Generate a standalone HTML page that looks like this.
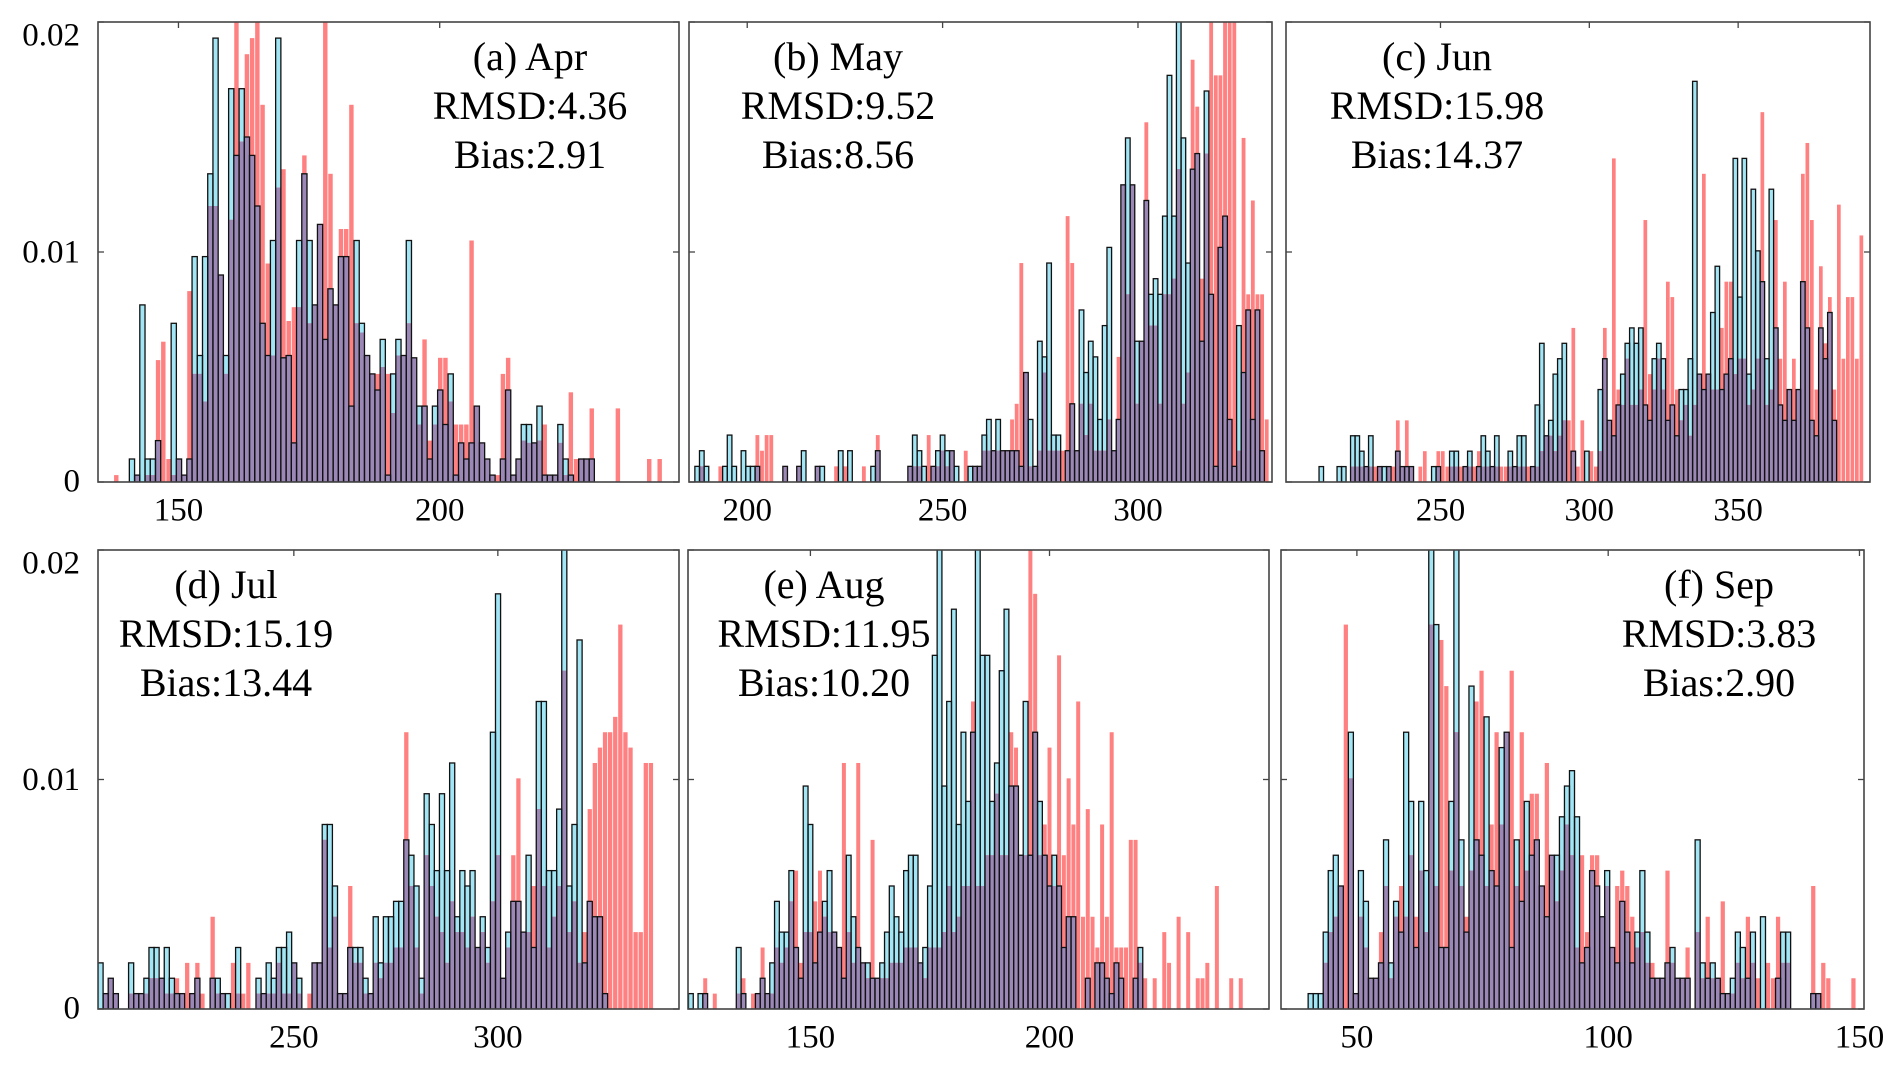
<!DOCTYPE html>
<html><head><meta charset="utf-8"><style>
html,body{margin:0;padding:0;background:#fff;}
svg{display:block;}
svg text{font-family:"Liberation Serif","Times New Roman",Times,serif;fill:#000;}
</style></head><body>
<svg id="chart" width="1892" height="1071" viewBox="0 0 1892 1071" xmlns="http://www.w3.org/2000/svg"></svg>
<script>
// ---- data (heights per bin; multiplied by the panel unit to get density) ----
const panelIds = ["a","b","c","d","e","f"];
const panelTitles = ["(a) Apr","(b) May","(c) Jun","(d) Jul","(e) Aug","(f) Sep"];
const panelRmsd = ["RMSD:4.36","RMSD:9.52","RMSD:15.98","RMSD:15.19","RMSD:11.95","RMSD:3.83"];
const panelBias = ["Bias:2.91","Bias:8.56","Bias:14.37","Bias:13.44","Bias:10.20","Bias:2.90"];
const yTicks = [0, 0.01, 0.02];
const yTickLabels = ["0", "0.01", "0.02"];
const xTicksA = [150, 200];
const xTicksB = [200, 250, 300];
const xTicksC = [250, 300, 350];
const xTicksD = [250, 300];
const xTicksE = [150, 200];
const xTicksF = [50, 100, 150];
const xRangeA = [134.6, 245.8], binA = [137.6, 1.0], unitA = 0.001;
const xRangeB = [185.1, 334.3], binB = [186.6, 1.185], unitB = 0.00068;
const xRangeC = [198.1, 394.3], binC = [209.2, 1.512], unitC = 0.00067;
const xRangeD = [202.0, 344.4], binD = [202.0, 1.249], unitD = 0.00067;
const xRangeE = [124.4, 245.9], binE = [124.5, 1.0], unitE = 0.00067;
const xRangeF = [34.9, 150.9], binF = [40.3, 1.0], unitF = 0.00067;

const blueA = [0,0,0,1.0,0.3,7.7,1.0,1.0,1.8,0, 0,6.9,1.0,0.3,1.0,9.8,5.5,9.8,13.4,19.3, 9.0,5.5,17.1,14.2,17.1,15,14.2,12,6.9,5.5, 10.5,19.3,5.4,5.5,1.7,10.5,13.4,10.5,7.7,11.2, 6.2,8.4,7.7,9.8,9.8,3.3,10.5,6.9,5.5,4.7, 4,6.2,0.3,4.7,6.2,5.5,10.5,5.4,3.3,3.3, 1.0,3.3,4,2.5,4.7,0.3,1.7,1.0,1.7,3.3, 1.7,1.0,0.3,0,1.0,4,0.3,1.0,2.5,2.5, 1.7,3.3,0.3,0.3,0.3,2.5,1.0,0.3,0,1.0, 1.0,1.0,0,0,0,0,0,0,0,0, 0,0,0,0,0];
const redA = [0.3,0,0,0,0.3,0,0.3,0.3,5.3,6.1, 1.0,0.3,1.0,0.3,8.3,4.7,4.7,3.5,12,12, 9,4.7,11.4,20.2,14.8,18.6,19.3,20.2,16.4,9.5, 5.5,12.8,13.6,7.0,7.6,7.6,14.2,6.9,7.7,11.2, 20.2,13.4,7.7,11,11,16.4,6.9,6.5,5.5,4.7, 4.7,5,4.7,3,5.5,5.5,6.9,5.4,2.5,6.2, 1.8,2.5,5.4,5.4,3.5,2.5,2.5,2.5,10.5,3.3, 1.7,1.0,0.3,0.3,4.7,5.4,0.3,1.0,1.8,1.7, 1.7,1.8,2.5,0.3,0.3,1.7,0.3,3.9,1.0,1.0, 1.0,3.2,0,0,0,0,3.2,0,0,0, 0,0,1.0,0,1.0];

const blueB = [1,2,1,0,0,0,1,3,1,0, 2,1,1,1,0,0,0,0,0,1, 0,0,1,2,0,0,1,1,0,0, 0,2,0,2,0,0,0,0,1,2, 0,0,0,0,0,0,1,3,2,1, 0,1,2,3,2,2,1,0,0,1, 1,1,3,4,2,4,2,2,2,2, 1,7,4,1,9,8,14,3,3,0, 2,5,2,11,7,9,8,4,10,15, 2,4,19,22,19,9,9,18,12,13, 12,17,26,17,30,22,14,20,21,9, 25,12,1,15,17,4,1,10,7,11, 4,11,2,0];
const redB = [0,1,0,0,0,1,0,0,0,0, 0,0,0,3,2,3,3,0,0,1, 0,0,1,0,0,0,1,0,0,0, 1,0,1,0,0,0,1,0,0,3, 0,0,0,0,0,0,1,1,1,0, 3,1,1,2,1,2,0,0,2,0, 1,1,2,2,2,2,2,2,4,5, 14,7,1,1,2,7,2,2,2,2, 17,14,2,5,3,5,2,2,2,4, 2,8,19,12,19,5,9,23,10,10, 5,12,12,13,20,5,7,27,24,13, 21,30,26,26,30,30,30,2,22,12, 18,12,12,4];

const blueC = [1,0,0,0,1,1,0,3,3,2, 1,3,0,1,1,1,0,2,1,1, 1,0,0,0,0,1,1,0,0,2, 2,0,1,2,0,1,3,2,1,3, 0,0,2,1,3,3,0,1,5,9, 3,4,7,8,9,0,2,0,0,2, 0,0,6,8,4,3,5,7,9,10, 9,10,5,4,8,9,8,4,5,3, 6,6,8,26,7,6,7,11,14,6, 7,8,21,12,21,7,19,15,13,8, 19,10,5,4,6,4,6,13,10,4, 3,10,8,11,4,0];
const redC = [0,0,0,0,0,0,0,1,1,1,1, 1,1,1,0,1,1,4,1,4,1, 0,1,2,0,0,2,2,1,1,1, 1,1,1,1,2,1,1,1,1,1, 1,1,1,1,1,1,1,1,2,3, 3,2,3,4,4,10,1,4,0,2, 1,2,10,4,21,6,5,8,5,5, 6,17,7,6,8,6,13,12,6,4, 5,3,5,7,20,7,6,6,10,13, 13,7,8,8,5,6,8,24,5,6, 17,8,13,6,8,6,20,22,17,6, 14,9,12,6,18,8,12,12,8,16];

const blueD = [3,1,2,1,0,0,3,1,1,2, 4,4,2,4,2,1,1,0,1,2, 0,0,2,2,1,1,0,4,0,0, 0,2,1,3,2,4,4,5,3,2, 0,0,3,3,12,12,8,1,1,4, 4,4,2,1,6,3,6,6,7,7, 11,10,8,2,14,12,9,14,9,16, 6,9,8,9,4,6,4,18,27,2, 5,7,7,5,10,4,20,20,9,9, 13,30,8,12,24,3,7,6,6,1];
const redD = [0,1,2,1,0,0,1,1,1,1, 2,2,2,1,1,2,1,3,1,3, 1,0,6,1,1,0,3,1,1,3, 0,1,1,1,1,3,1,1,3,1, 0,1,3,3,11,4,6,1,1,8, 3,3,1,1,3,2,3,3,4,4, 18,8,4,1,10,8,6,5,3,7, 5,5,4,6,4,5,3,7,10,2, 4,10,15,5,5,8,13,8,4,6, 8,22,5,7,3,5,13,16,17,18, 18,19,25,18,17,5,5,16,16];

const blueE = [1,0,1,1,0,0,0,0,0,0, 4,1,0,0,1,2,1,3,7,5, 5,9,4,2,14.5,12,3,5,7,9, 5,4,2,10,6,4,3,3,2,2, 3,5,8,6,5,9,10,10,3,4, 8,23,30,14.5,20,26,12,18,13.5,18, 30,23,23,13.5,16,22,26,14.5,14.5,10, 20,10,18,13.5,10,8,10,8,4,6, 6,0,0,2,0,3,3,2,1,3, 2,0,0,2,4];
const redE = [0,0,0,2,0,1,0,0,0,0, 1,2,0,1,1,4,1,1,4,3, 4,7,9,3,5,5,7,9,6,5, 5,4,16,5,3,16,3,2,11,2, 2,2,3,3,3,4,4,4,3,2, 4,4,4,5,8,5,6,8,8,20, 8,8,10,10,14,10,10,18,17,10, 10,30,27,10,12,17,8,23,10,15, 12,20,6,13,6,4,12,6,18,4, 4,4,11,11,3,2,0,2,0,5, 3,0,6,0,5,0,2,2,3,0, 8,0,0,2,0,2];

const blueF = [1,1,1,5,9,10,8,0,18,1, 9,7,2,2,3,11,3,7,5,18, 13.5,4,13.5,9,30,25,4,4,13.5,30, 11,5,21,11,10,19,9,8,17,18, 4,11,7,13.5,10,11,8,6,10,10, 12.5,14.5,15.5,12.5,3,4,9,8,6,9, 4,3,7,5,3,5,9,5,2,2, 2,3,4,2,2,2,0,11,3,2, 3,2,1,1,2,5,4,2,5,0, 6,0,0,2,5,5,0,0,0,0, 1,1];
const redF = [0,0,0,3,5,6,8,25,15,1, 6,4,2,2,5,8,2,6,8,6, 10,6,9,5,25,8,24,21,9,18, 8,6,9,20,22,8,12,18,12,18, 22,8,18,9,14,14,8,16,10,7, 9,12,10,4,10,5,10,10,6,8, 4,8,9,8,6,4,5,3,3,2, 2,9,3,2,2,4,0,5,2,6, 2,2,7,1,1,3,2,6,3,2, 0,3,2,6,3,3,0,0,0,0, 8,1,3,2,0,0,0,0,2];

// ---- layout ----
const boxes = [
  {x0:98, x1:679, y0:22, y1:482},
  {x0:689, x1:1272, y0:22, y1:482},
  {x0:1286, x1:1870, y0:22, y1:482},
  {x0:98, x1:679, y0:550, y1:1009},
  {x0:688, x1:1269, y0:550, y1:1009},
  {x0:1281, x1:1864, y0:550, y1:1009}
];
const panels = [
  {range:xRangeA, bin:binA, unit:unitA, blue:blueA, red:redA, ticks:xTicksA, tx:530, showY:true},
  {range:xRangeB, bin:binB, unit:unitB, blue:blueB, red:redB, ticks:xTicksB, tx:838, showY:false},
  {range:xRangeC, bin:binC, unit:unitC, blue:blueC, red:redC, ticks:xTicksC, tx:1437, showY:false},
  {range:xRangeD, bin:binD, unit:unitD, blue:blueD, red:redD, ticks:xTicksD, tx:226, showY:true},
  {range:xRangeE, bin:binE, unit:unitE, blue:blueE, red:redE, ticks:xTicksE, tx:824, showY:false},
  {range:xRangeF, bin:binF, unit:unitF, blue:blueF, red:redF, ticks:xTicksF, tx:1719, showY:false}
];
const YMAX = 0.02;
const FONT = '"Liberation Serif", "Times New Roman", Times, serif';
const NS = "http://www.w3.org/2000/svg";
const svg = document.getElementById("chart");
function mk(tag, attrs, parent){
  const e = document.createElementNS(NS, tag);
  for (const k in attrs) e.setAttribute(k, attrs[k]);
  (parent||svg).appendChild(e);
  return e;
}
const defs = mk("defs", {});
panels.forEach((p, k) => {
  const b = boxes[k];
  const xs = v => b.x0 + (v - p.range[0]) / (p.range[1] - p.range[0]) * (b.x1 - b.x0);
  const ys = v => b.y1 - Math.min(v, YMAX * 1.02) / YMAX * (b.y1 - b.y0);
  const cp = mk("clipPath", {id:"clip"+k}, defs);
  mk("rect", {x:b.x0, y:b.y0, width:b.x1-b.x0, height:b.y1-b.y0}, cp);
  const g = mk("g", {"clip-path":"url(#clip"+k+")"});
  
  
  const n = Math.max(p.blue.length, p.red.length);
  const outlines = [];
  for (let i = 0; i < n; i++) {
    const xl = xs(p.bin[0] + i * p.bin[1]);
    const xr = xs(p.bin[0] + (i + 1) * p.bin[1]);
    const bv = (p.blue[i] || 0) * p.unit;
    const rv = (p.red[i] || 0) * p.unit;
    const w = xr - xl;
    if (bv > 0) {
      const r = mk("rect", {x:xl, y:ys(bv), width:w, height:b.y1-ys(bv), fill:"#a2e5f5"}, g);
      
      
    }
    if (rv > 0) {
      const r = mk("rect", {x:xl+0.4, y:ys(rv), width:w-0.8, height:b.y1-ys(rv), fill:"#ff8080"}, g);
      
      
    }
    const mv = Math.min(bv, rv);
    if (mv > 0) {
      const r = mk("rect", {x:xl, y:ys(mv), width:w, height:b.y1-ys(mv), fill:"#9c88b6"}, g);
      
      
    }
    if (bv > 0) outlines.push([xl, w, bv]);
  }
  outlines.forEach(o => {
    const r = mk("rect", {x:o[0], y:ys(o[2]), width:o[1], height:b.y1-ys(o[2]), fill:"none", stroke:"#111", "stroke-width":1.3}, g);
    
    
  });
  const fr = mk("rect", {x:b.x0, y:b.y0, width:b.x1-b.x0, height:b.y1-b.y0, fill:"none", stroke:"#444", "stroke-width":1.6});
  
  
  yTicks.forEach((t, j) => {
    const y = ys(t);
    mk("line", {x1:b.x0, x2:b.x0+6, y1:y, y2:y, stroke:"#444", "stroke-width":1.3});
    mk("line", {x1:b.x1-6, x2:b.x1, y1:y, y2:y, stroke:"#444", "stroke-width":1.3});
    if (p.showY) {
      const ty = j === 2 ? y + 16 : (j === 0 ? y + 2 : y + 3);
      const tl = mk("text", {x:b.x0-18, y:ty, "font-size":33, "font-family":FONT, "text-anchor":"end", "dominant-baseline":"middle"});
      tl.textContent = yTickLabels[j];
      
      
    }
  });
  p.ticks.forEach(t => {
    const x = xs(t);
    mk("line", {x1:x, x2:x, y1:b.y0, y2:b.y0+6, stroke:"#444", "stroke-width":1.3});
    const tl = mk("text", {x:x, y:b.y1+31, "font-size":33, "font-family":FONT, "text-anchor":"middle", "dominant-baseline":"middle"});
    tl.textContent = t;
    
    
  });
  const base = b.y0 + 39;
  [panelTitles[k], panelRmsd[k], panelBias[k]].forEach((s, j) => {
    const tl = mk("text", {x:p.tx, y:base + j*49, "font-size":40, "font-family":FONT, "text-anchor":"middle", "dominant-baseline":"middle"});
    tl.textContent = s;
    
    
  });
});
</script>
</body></html>
